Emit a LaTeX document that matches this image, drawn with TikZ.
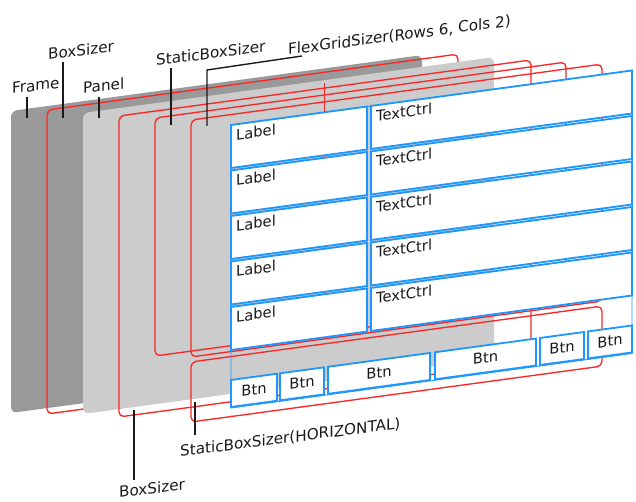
\documentclass[tikz,border=0pt]{standalone}
\usepackage{fontspec}
\setmainfont{DejaVu Sans}
\definecolor{framegray}{RGB}{153,153,153}
\definecolor{panelgray}{RGB}{204,204,204}
\definecolor{sizerred}{RGB}{248,40,40}
\definecolor{ctrlblue}{RGB}{30,150,255}
\definecolor{ink}{RGB}{26,26,26}
\begin{document}
\begin{tikzpicture}[x=1pt, y=-1pt,
  every node/.style={inner sep=0pt, text=ink},
  plane/.style args={#1/#2}{shift={(#1,#2)}, yslant=0.136},
  sizer/.style={draw=sizerred, line width=1.35pt, rounded corners=5pt},
  ctrl/.style={draw=ctrlblue, fill=white, line width=1.8pt},
  leader/.style={draw=ink, line width=1.4pt},
  tag/.style={anchor=base west, yslant=0.13, font=\fontsize{15.2}{18}\selectfont},
  ctrltext/.style={transform shape, font=\fontsize{14.7}{17}\selectfont},
]
\useasboundingbox (0,0) rectangle (636,502);

% Frame
\begin{scope}[plane=11/111]
  \fill[framegray, rounded corners=6pt] (0,0) rectangle (411,302);
\end{scope}
% outer BoxSizer
\begin{scope}[plane=47/110]
  \draw[sizer] (0,0) rectangle (411,304);
\end{scope}
% Panel
\begin{scope}[plane=83/113]
  \fill[panelgray, rounded corners=6pt] (0,0) rectangle (411,301);
  \draw[sizerred, line width=1pt] (241,3) -- (241,215);
\end{scope}
% inner BoxSizer
\begin{scope}[plane=119/116]
  \draw[sizer] (0,0) rectangle (412,301);
\end{scope}
% StaticBoxSizer
\begin{scope}[plane=155/118]
  \draw[sizer] (0,0) rectangle (411,238);
\end{scope}
% FlexGridSizer and the horizontal StaticBoxSizer below it
\begin{scope}[plane=191/120]
  \draw[sizer] (0,0) rectangle (411,237);
  \draw[sizer] (0,242) rectangle (411,302);
\end{scope}
% controls
\begin{scope}[plane=231/125]
  \draw[ctrlblue, line width=0.9pt] (0,0) rectangle (401,283);
  \foreach \i in {0,...,4} {
    \pgfmathsetmacro\t{45.5*\i}
    \draw[ctrl] (0,\t) rectangle (136,\t+43);
    \draw[ctrl] (140,\t) rectangle (401,\t+43);
    \node[ctrltext, anchor=north west] (lab\i) at (5,\t+4.5) {Label};
    \node[ctrltext, anchor=north west] (txt\i) at (145,\t+4.5) {TextCtrl};
  }
  \foreach \a/\b/\n in {0/46/1, 49/93/2, 97/199/3, 204/305/4, 309/353/5, 357/401/6} {
    \draw[ctrl] (\a,255) rectangle (\b,282);
    \node[ctrltext] (btn\n) at ({(\a+\b)/2},267.5) {Btn};
  }
\end{scope}

% callouts
\coordinate (frA) at (27,97);   \coordinate (frB) at (27,118);
\coordinate (bsA) at (63,62);   \coordinate (bsB) at (63,118);
\coordinate (paA) at (99,97);   \coordinate (paB) at (99,118);
\coordinate (sbA) at (171,68);  \coordinate (sbB) at (171,125);
\coordinate (fgA) at (302,56);  \coordinate (fgK) at (207,70);  \coordinate (fgB) at (207,126);
\coordinate (shA) at (195,435); \coordinate (shB) at (195,402);
\coordinate (b2A) at (134,480); \coordinate (b2B) at (134,410);
\draw[leader] (frA) -- (frB);
\draw[leader] (bsA) -- (bsB);
\draw[leader] (paA) -- (paB);
\draw[leader] (sbA) -- (sbB);
\draw[leader] (fgA) -- (fgK) -- (fgB);
\draw[leader] (shA) -- (shB);
\draw[leader] (b2A) -- (b2B);

\node[tag] (tFrame) at (12,94) {Frame};
\node[tag] (tBox) at (48,60) {BoxSizer};
\node[tag] (tPanel) at (83,94) {Panel};
\node[tag] (tStatic) at (156,66) {StaticBoxSizer};
\node[tag] (tFlex) at (288,55) {FlexGridSizer(Rows 6, Cols 2)};
\node[tag] (tHoriz) at (180,457) {StaticBoxSizer(HORIZONTAL)};
\node[tag] (tBox2) at (119,498) {BoxSizer};
\end{tikzpicture}
\end{document}
